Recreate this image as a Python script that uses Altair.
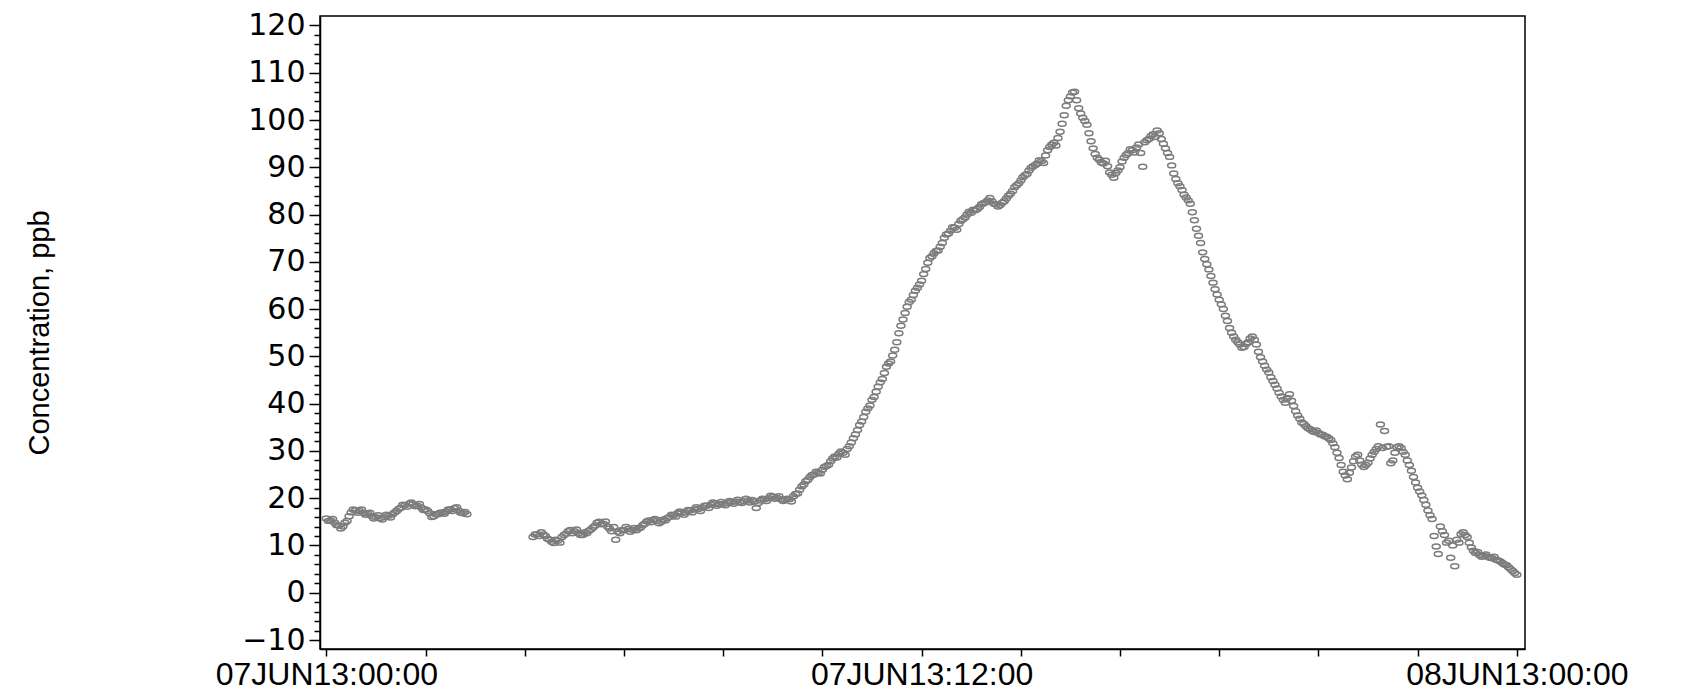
import altair as alt
import pandas as pd
from datetime import datetime, timedelta

# ---------------- data (readings every 2.5 minutes, ppb) ----------------
# "a" lists: readings on the 5-minute marks; "b" lists: readings 2.5 min later
STEP_MIN = 5

SEG1_START = "2013-06-07T00:00:00"
seg1_a = [
    15.7, 15.3, 14.8, 14.2, 14.0, 15.2, 17.0, 17.4, 17.3, 16.9, 16.7, 16.2,
    16.0, 15.8, 16.0, 16.3, 16.6, 17.3, 18.0, 18.5, 18.8, 18.7, 18.4, 18.0,
    17.6, 16.8, 16.2, 16.6, 17.0, 17.2, 17.6, 17.9, 17.4, 16.8, 16.6,
]
seg1_b = [
    15.2, 15.6, 14.3, 13.6, 14.8, 16.2, 17.6, 16.9, 17.6, 16.5, 16.9, 15.7,
    16.4, 15.5, 16.5, 15.9, 17.0, 17.7, 18.6, 18.2, 19.1, 18.3, 18.8, 17.5,
    17.3, 16.0, 16.6, 16.9, 16.7, 17.6, 17.3, 18.1, 16.9, 17.1,
]

SEG2_START = "2013-06-07T04:10:00"
h04 = [11.8, 12.4, 12.8, 12.0, 11.2, 10.5, 11.0, 11.8, 12.5, 13.3]
h05 = [13.0, 12.6, 12.2, 12.6, 13.4, 14.2, 15.0, 14.6, 14.0, 13.0, 11.2, 12.6]
h06 = [13.2, 13.5, 13.3, 13.2, 13.8, 14.6, 15.3, 15.4, 15.2, 15.0, 15.3, 16.0]
h07 = [16.4, 16.8, 16.9, 17.0, 17.4, 17.6, 17.7, 18.0, 18.4, 18.6, 18.9, 18.7]
h08 = [18.8, 19.0, 19.2, 19.3, 19.2, 19.4, 19.5, 19.6, 17.9, 19.5, 19.8, 20.0]
h09 = [20.3, 20.1, 19.8, 19.6, 19.8, 20.4, 21.0, 22.5, 23.6, 24.5, 25.0, 25.4]
h10 = [26.0, 26.8, 27.8, 28.8, 29.4, 29.6, 30.4, 31.8, 33.5, 35.5, 37.2, 39.0]
h11 = [40.8, 42.5, 44.5, 46.5, 48.5, 50.2, 53.0, 56.5, 59.2, 61.5, 63.0, 64.5]
h12 = [66.0, 68.5, 70.8, 71.8, 72.4, 74.0, 75.8, 76.6, 77.2, 78.0, 79.0, 80.0]
h13 = [80.4, 80.9, 81.6, 82.4, 83.0, 82.8, 82.2, 82.0, 82.8, 84.0, 85.0, 86.2]
h14 = [87.2, 88.3, 89.3, 90.2, 90.8, 91.3, 92.5, 94.3, 95.2, 96.2, 99.2, 103.0]
h15 = [105.0, 106.0, 102.5, 100.5, 99.0, 95.5, 92.8, 91.6, 90.8, 90.2, 88.4, 88.8]
h16 = [90.0, 92.0, 93.0, 93.6, 94.2, 93.0, 95.3, 96.0, 97.0, 97.8, 96.0, 94.0]
h17 = [92.2, 88.7, 86.6, 85.2, 83.6, 82.3, 78.8, 75.5, 72.0, 69.5, 67.0, 64.2]
h18 = [62.0, 60.0, 57.5, 55.0, 53.5, 52.5, 52.0, 53.0, 54.2, 52.5, 49.8, 48.0]
h19 = [46.6, 44.8, 43.2, 41.5, 40.2, 42.0, 39.5, 37.5, 36.0, 35.2, 34.6, 34.0]
h20 = [33.8, 33.4, 33.0, 32.3, 30.8, 28.5, 25.6, 24.0, 26.5, 28.8, 28.0, 26.6]
h21 = [27.5, 29.2, 30.4, 35.6, 34.2, 31.0, 28.0, 30.8, 30.6, 29.2, 27.0, 24.5]
h22 = [22.2, 20.6, 18.6, 16.4, 12.0, 8.2, 13.0, 10.6, 7.4, 5.6, 10.6, 12.8]
h23 = [11.8, 9.6, 8.4, 8.0, 7.8, 7.6, 7.3, 7.0, 6.6, 6.0, 5.4, 4.6]
h24 = [3.8]

h04b = [12.3, 12.0, 12.3, 11.4, 10.8, 11.2, 10.6, 12.2, 13.0, 12.6]
h05b = [13.4, 12.2, 12.8, 13.1, 13.8, 14.8, 14.5, 15.1, 13.6, 13.9, 12.9, 13.3]
h06b = [13.9, 12.9, 13.7, 13.6, 14.3, 15.1, 14.9, 15.6, 14.7, 15.5, 15.8, 16.5]
h07b = [16.1, 17.2, 16.5, 17.5, 17.0, 18.1, 17.3, 18.4, 17.9, 19.1, 18.4, 19.2]
h08b = [18.5, 19.4, 18.8, 19.7, 19.0, 19.9, 19.1, 19.3, 19.0, 19.9, 19.4, 20.5]
h09b = [19.9, 20.4, 19.4, 19.9, 19.3, 20.9, 21.8, 22.9, 23.9, 24.9, 25.6, 25.2]
h10b = [26.6, 27.1, 28.4, 28.6, 29.9, 29.2, 31.0, 32.7, 34.4, 36.2, 38.3, 39.6]
h11b = [41.4, 43.6, 45.2, 47.8, 48.9, 51.4, 54.9, 57.8, 60.5, 62.0, 63.9, 65.2]
h12b = [67.4, 69.8, 71.2, 72.3, 73.2, 75.1, 76.0, 77.3, 76.8, 78.7, 79.4, 80.6]
h13b = [81.0, 81.2, 82.2, 82.6, 83.5, 82.3, 81.7, 82.5, 83.4, 84.4, 85.8, 86.6]
h14b = [87.9, 88.6, 89.9, 90.5, 91.5, 90.9, 93.6, 94.8, 94.6, 97.5, 101.0, 104.2]
h15b = [105.8, 104.2, 101.4, 99.8, 97.2, 94.0, 92.0, 91.0, 91.4, 88.9, 87.8, 89.3]
h16b = [91.2, 92.6, 93.8, 93.1, 94.8, 90.1, 95.7, 96.6, 96.4, 97.2, 95.0, 93.0]
h17b = [90.4, 87.5, 86.0, 84.2, 83.0, 80.5, 77.0, 74.0, 70.6, 68.4, 65.6, 63.1]
h18b = [61.0, 58.6, 56.0, 54.2, 53.0, 51.8, 52.6, 53.8, 53.5, 51.0, 48.9, 47.2]
h19b = [45.6, 44.0, 42.3, 40.8, 41.2, 40.6, 38.4, 36.8, 35.7, 34.8, 34.2, 34.3]
h20b = [33.5, 33.1, 32.7, 31.6, 29.6, 27.0, 24.8, 25.4, 27.8, 29.2, 27.1, 27.0]
h21b = [28.4, 29.8, 31.0, 30.6, 30.9, 27.4, 29.6, 31.0, 29.8, 28.0, 25.8, 23.3]
h22b = [21.4, 19.6, 17.4, 15.6, 9.8, 14.0, 12.2, 11.0, 10.0, 11.2, 12.4, 12.2]
h23b = [10.6, 8.9, 8.6, 7.6, 8.1, 7.4, 7.6, 6.8, 6.3, 5.8, 5.0, 4.2]

seg2_a = (h04 + h05 + h06 + h07 + h08 + h09 + h10 + h11 + h12 + h13 + h14
          + h15 + h16 + h17 + h18 + h19 + h20 + h21 + h22 + h23 + h24)
seg2_b = (h04b + h05b + h06b + h07b + h08b + h09b + h10b + h11b + h12b + h13b
          + h14b + h15b + h16b + h17b + h18b + h19b + h20b + h21b + h22b + h23b)

Y_TICKS = list(range(-10, 121, 2))
X_TICK_HOURS = list(range(0, 25, 2))

rows = []
for start, a_vals, b_vals in ((SEG1_START, seg1_a, seg1_b),
                              (SEG2_START, seg2_a, seg2_b)):
    t0 = datetime.fromisoformat(start)
    for offset, vals in ((0.0, a_vals), (STEP_MIN / 2, b_vals)):
        for i, v in enumerate(vals):
            t = t0 + timedelta(minutes=STEP_MIN * i + offset)
            rows.append({"time": t.strftime("%Y-%m-%dT%H:%M:%SZ"), "conc": v})
df = pd.DataFrame(rows)


def dt(h):
    return alt.DateTime(year=2013, month=6, date=7 + h // 24, hours=h % 24,
                        utc=True)


x_values = [dt(h) for h in X_TICK_HOURS]
x_domain = [alt.DateTime(year=2013, month=6, date=6, hours=23, minutes=52,
                         seconds=18, utc=True),
            alt.DateTime(year=2013, month=6, date=8, hours=0, minutes=9,
                         seconds=54, utc=True)]

ellipse = "M-1,0A1,0.62,0,1,0,1,0A1,0.62,0,1,0,-1,0Z"

chart = alt.Chart(df).mark_point(
    shape=ellipse, size=64, filled=False, color="#7c7c7c",
    strokeWidth=1.5, opacity=1, clip=True
).encode(
    x=alt.X("time:T",
            scale=alt.Scale(type="utc", domain=x_domain),
            axis=alt.Axis(
                values=x_values, title=None, grid=False, tickSize=7,
                labelExpr=("utchours(datum.value) % 12 === 0 ? "
                           "utcFormat(datum.value, '%d') + "
                           "upper(utcFormat(datum.value, '%b')) + "
                           "utcFormat(datum.value, '%y:%H:%M') : ''"),
                labelFont="Liberation Sans", labelFontSize=32, labelLimit=0,
                labelBaseline="alphabetic", labelPadding=28,
                labelOverlap=False, labelFlush=False, labelBound=False)),
    y=alt.Y("conc:Q",
            scale=alt.Scale(domain=[-11.9, 122], nice=False, zero=False),
            axis=alt.Axis(
                values=Y_TICKS, grid=False,
                labelExpr="datum.value % 10 === 0 ? datum.label : ''",
                tickSize={"condition": {"test": "datum.value % 10 === 0",
                                        "value": 11}, "value": 6},
                labelFont="DejaVu Sans", labelFontSize=30, labelPadding=4,
                labelLimit=0, labelOverlap=False, labelBound=False,
                title="Concentration, ppb", titleFont="Liberation Sans",
                titleFontSize=29, titleFontWeight="normal",
                titleX=-272, titleBaseline="alphabetic")),
).properties(
    width=1205, height=633,
    autosize=alt.AutoSizeParams(type="none"),
    padding={"left": 312, "top": 8, "right": 155, "bottom": 41},
).configure_view(
    stroke="black", strokeWidth=1.5
).configure_axis(
    domainColor="black", domainWidth=1.5, tickColor="black", tickWidth=1.5,
    labelColor="black", titleColor="black"
)

chart.save("out.html", embed_options={"renderer": "svg", "actions": False})
